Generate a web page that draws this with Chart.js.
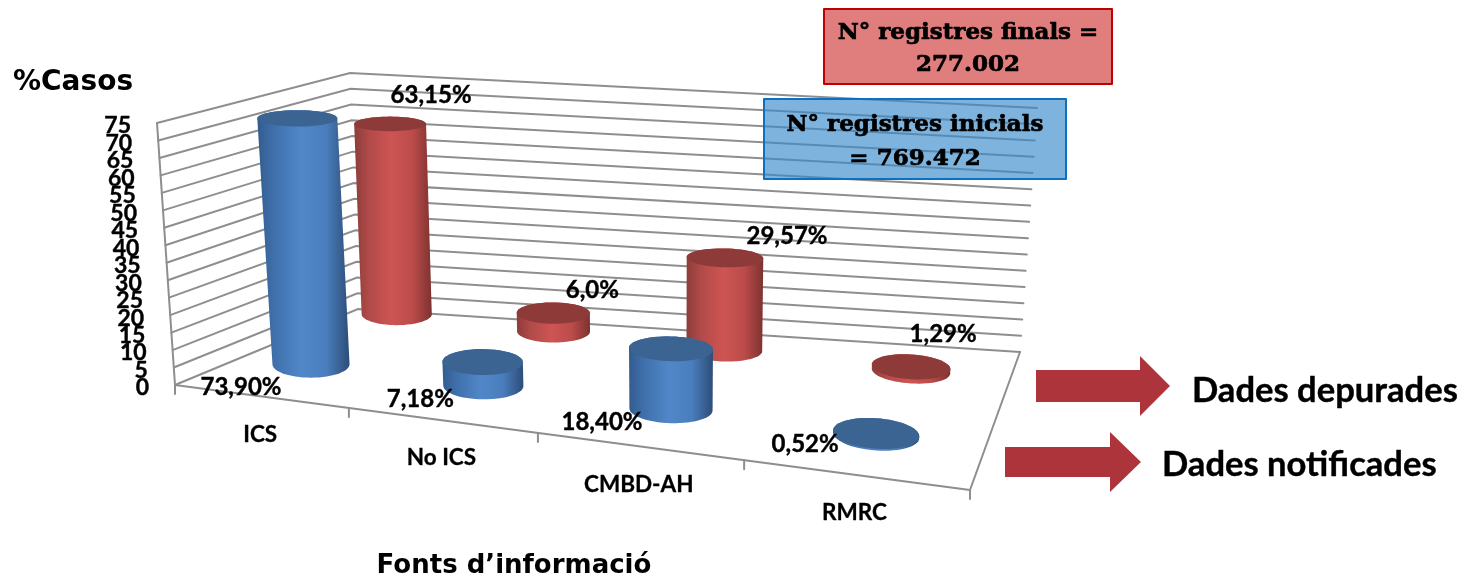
<!DOCTYPE html>
<html>
<head>
<meta charset="utf-8">
<style>html,body{margin:0;padding:0;background:#fff}canvas{display:block}</style>
<script src="https://cdn.jsdelivr.net/npm/chart.js@4"></script>
</head>
<body>
<canvas id="c" width="1464" height="580"></canvas>
<script>
const categories = ['ICS', 'No ICS', 'CMBD-AH', 'RMRC'];
const notificades = [73.90, 7.18, 18.40, 0.52];
const depurades = [63.15, 6.0, 29.57, 1.29];
const labelsNotificades = ['73,90%', '7,18%', '18,40%', '0,52%'];
const labelsDepurades = ['63,15%', '6,0%', '29,57%', '1,29%'];
const yMin = 0, yMax = 75, yStep = 5;

// Screen corners of the 3D frame: [u,d] = [0,0],[1,0],[1,1],[0,1]
const WALL_FLOOR = [[175,385],[970,490],[1020,352],[358,309]];
const WALL_CEIL  = [[157,123],[990,220],[1037,108],[350,73]];
// Planes the two rows of cylinders stand on (d=0 front row, d=1 back row)
const ROW_FLOOR = [[230,354],[986,449],[1011,382],[323,306]];
const ROW_CEIL  = [[213,104],[998,204],[1021,140],[313,82]];
const SERIES_DEPTH = [0, 1];
const RING_Y = [13.5, 11];
const PERSPECTIVE = 0.84;

const warp = u => PERSPECTIVE*u/(1+(PERSPECTIVE-1)*u);
const bil = (q,u,d) => {
  const a=[q[0][0]+(q[1][0]-q[0][0])*u, q[0][1]+(q[1][1]-q[0][1])*u];
  const b=[q[3][0]+(q[2][0]-q[3][0])*u, q[3][1]+(q[2][1]-q[3][1])*u];
  return [a[0]+(b[0]-a[0])*d, a[1]+(b[1]-a[1])*d];
};
function project(fl,ce,u,d,v){
  const f=bil(fl,u,d), t=bil(ce,u,d);
  return [f[0]+(t[0]-f[0])*v, f[1]+(t[1]-f[1])*v];
}
const W=(u,d,v)=>project(WALL_FLOOR,WALL_CEIL,warp(u),d,v);
const R=(uw,d,v)=>project(ROW_FLOOR,ROW_CEIL,uw,d,v);

function hull(pts){
  const s=pts.slice().sort((a,b)=>a[0]-b[0]||a[1]-b[1]);
  const cr=(o,a,b)=>(a[0]-o[0])*(b[1]-o[1])-(a[1]-o[1])*(b[0]-o[0]);
  const lo=[],up=[];
  for(const p of s){while(lo.length>1&&cr(lo[lo.length-2],lo[lo.length-1],p)<=0)lo.pop();lo.push(p);}
  for(const p of s.slice().reverse()){while(up.length>1&&cr(up[up.length-2],up[up.length-1],p)<=0)up.pop();up.push(p);}
  return lo.slice(0,-1).concat(up.slice(0,-1));
}
function poly(ctx,pts){ctx.beginPath();pts.forEach((p,i)=>i?ctx.lineTo(p[0],p[1]):ctx.moveTo(p[0],p[1]));ctx.closePath();}

const PALETTE = {
  0:{stops:['#335c8f','#3f70ab','#5187c9','#4a7dbc','#2c4d78'],top:'#3b6492'},
  1:{stops:['#8c3d3b','#b04a48','#cd5553','#bb4c4a','#7d3230'],top:'#8e3a39'}
};

class CylinderElement extends Chart.BarElement {
  draw(ctx){
    const area=this.$area, s=this.$series, pal=PALETTE[s];
    if(!area) return;
    const p=this.getProps(['x','y','base','width']);
    const u=(p.x-area.left)/area.width, uw=warp(u);
    const vTop=(area.bottom-p.y)/area.height, vBase=(area.bottom-p.base)/area.height;
    const ru=(p.width/2)/area.width*(1+0.16*u), d0=SERIES_DEPTH[s];
    const tilt=0.8*u*u*u;
    const ring=v=>{
      const out=[], ry=RING_Y[s]*(1-0.4*v)*(1+0.3*Math.pow(u,6)), c=R(uw,d0,v);
      for(let i=0;i<60;i++){const t=i/60*2*Math.PI;
        const q=R(uw+ru*Math.cos(t),d0,v);
        out.push([q[0],c[1]+(q[1]-c[1])*tilt+ry*Math.sin(t)]);}
      return out;};
    const top=ring(vTop), bot=ring(vBase), h=hull(top.concat(bot));
    const xs=h.map(q=>q[0]), minX=Math.min(...xs), maxX=Math.max(...xs);
    const g=ctx.createLinearGradient(minX,0,maxX,0);
    [0,.18,.48,.75,1].forEach((st,i)=>g.addColorStop(st,pal.stops[i]));
    ctx.save();
    poly(ctx,h);ctx.fillStyle=g;ctx.fill();
    poly(ctx,top);ctx.fillStyle=pal.top;ctx.fill();
    ctx.restore();
    this.$anchorTop=R(uw,d0,vTop);this.$anchorBase=R(uw,d0,vBase);
  }
}
CylinderElement.id='cylinder';
CylinderElement.defaults=Chart.BarElement.defaults;
class CylinderController extends Chart.BarController {}
CylinderController.id='cylinder';
CylinderController.defaults={...Chart.BarController.defaults,dataElementType:'cylinder'};
CylinderController.overrides=Chart.BarController.overrides;
Chart.register(CylinderElement,CylinderController);

const GRID='#8e8e8e', BODY='Lato, "Open Sans", sans-serif';
function text(ctx,s,x,y,font,align,heavy){
  ctx.font=font;ctx.textAlign=align||'center';ctx.textBaseline='middle';ctx.fillStyle='#000';
  ctx.fillText(s,x,y);
  if(heavy){ctx.strokeStyle='#000';ctx.lineWidth=heavy;ctx.lineJoin='round';ctx.strokeText(s,x,y);}
}
function arrow(ctx,x0,x1,x2,yc,hs,hh){
  ctx.beginPath();ctx.moveTo(x0,yc-hs);ctx.lineTo(x1,yc-hs);ctx.lineTo(x1,yc-hh);ctx.lineTo(x2,yc);
  ctx.lineTo(x1,yc+hh);ctx.lineTo(x1,yc+hs);ctx.lineTo(x0,yc+hs);ctx.closePath();
  ctx.fillStyle='#ae343c';ctx.fill();
}
function box(ctx,x,y,w,h,fill,stroke,lines){
  ctx.fillStyle=fill;ctx.fillRect(x,y,w,h);
  ctx.strokeStyle=stroke;ctx.lineWidth=2;ctx.strokeRect(x,y,w,h);
  const f='bold 23px "DejaVu Serif", serif';
  text(ctx,lines[0],x+w/2,y+h*0.32,f,'center',0.7);
  text(ctx,lines[1],x+w/2,y+h*0.75,f,'center',0.7);
}

const wallsPlugin={
  id:'walls',
  beforeDatasetsDraw(chart){
    const ctx=chart.ctx, area=chart.chartArea, ys=chart.scales.y, xs=chart.scales.x;
    chart.getSortedVisibleDatasetMetas().forEach(m=>m.data.forEach(e=>{e.$area=area;e.$series=m.index;}));
    const V=val=>(area.bottom-ys.getPixelForValue(val))/area.height;
    ctx.save();
    ctx.strokeStyle=GRID;ctx.lineWidth=2;ctx.lineCap='round';
    const seg=(a,b)=>{ctx.beginPath();ctx.moveTo(a[0],a[1]);ctx.lineTo(b[0],b[1]);ctx.stroke();};
    ys.ticks.forEach(t=>{const v=V(t.value);
      ctx.beginPath();
      const a=W(0,0,v),b=W(0,1,v),c=W(1,1,v);
      ctx.moveTo(a[0],a[1]);ctx.lineTo(b[0],b[1]);ctx.lineTo(c[0],c[1]);ctx.stroke();});
    seg(W(0,0,0),W(0,0,1));
    seg(W(0,0,0),W(1,0,0));seg(W(1,0,0),W(1,1,0));
    for(let i=0;i<=categories.length;i++){const a=W(i/categories.length,0,0);seg(a,[a[0],a[1]+9]);}
    ctx.restore();
    ys.ticks.forEach(t=>{const a=W(0,0,V(t.value));
      text(ctx,String(t.value),a[0]-26,a[1]+3,'bold 23px '+BODY,'right',0.4);});
    xs.ticks.forEach((t,i)=>{const u=(xs.getPixelForTick(i)-area.left)/area.width,a=W(u,0,0);
      text(ctx,categories[t.value],a[0],a[1]+38,'bold 22.5px '+BODY,'center',0.3);});
    box(ctx,824,9,288,75,'#e07d7d','#c00000',['N° registres finals =','277.002']);
    box(ctx,764,99,302,80,'rgba(55,138,203,0.65)','#0f70c0',['N° registres inicials','= 769.472']);
  },
  afterDatasetsDraw(chart){
    const ctx=chart.ctx;
    const font='bold 24px '+BODY;
    const nudgeBlue=[[-70,23],[-63,13],[-69,13],[-71,9]], nudgeRed=[[41,-29],[39,-23],[62,-22],[32,-33]];
    chart.getDatasetMeta(0).data.forEach((e,i)=>{const a=e.$anchorBase;if(a)text(ctx,labelsNotificades[i],a[0]+nudgeBlue[i][0],a[1]+nudgeBlue[i][1],font,'center',0.4);});
    chart.getDatasetMeta(1).data.forEach((e,i)=>{const a=e.$anchorTop;if(a)text(ctx,labelsDepurades[i],a[0]+nudgeRed[i][0],a[1]+nudgeRed[i][1],font,'center',0.4);});
    text(ctx,'%Casos',13,83,'bold 28px "DejaVu Sans", sans-serif','left');
    text(ctx,'Fonts d\u2019informació',514,566,'bold 26px "DejaVu Sans", sans-serif');
    arrow(ctx,1036,1140,1170,386,16,30);
    arrow(ctx,1005,1110,1141,462,15,30);
    text(ctx,'Dades depurades',1192,391,'bold 34.6px '+BODY,'left',0.4);
    text(ctx,'Dades notificades',1162,465,'bold 34.6px '+BODY,'left',0.4);
  }
};

new Chart(document.getElementById('c'),{
  type:'cylinder',
  data:{labels:categories,datasets:[
    {label:'Dades notificades',data:notificades,backgroundColor:'#4f81bd',grouped:false,barPercentage:0.4,categoryPercentage:1},
    {label:'Dades depurades',data:depurades,backgroundColor:'#c0504d',grouped:false,barPercentage:0.4,categoryPercentage:1}
  ]},
  options:{
    responsive:false,animation:false,
    layout:{padding:0},
    plugins:{legend:{display:false},tooltip:{enabled:false},title:{display:false}},
    scales:{
      x:{display:false,type:'category'},
      y:{display:false,min:yMin,max:yMax,ticks:{stepSize:yStep}}
    }
  },
  plugins:[wallsPlugin]
});
</script>
</body>
</html>
